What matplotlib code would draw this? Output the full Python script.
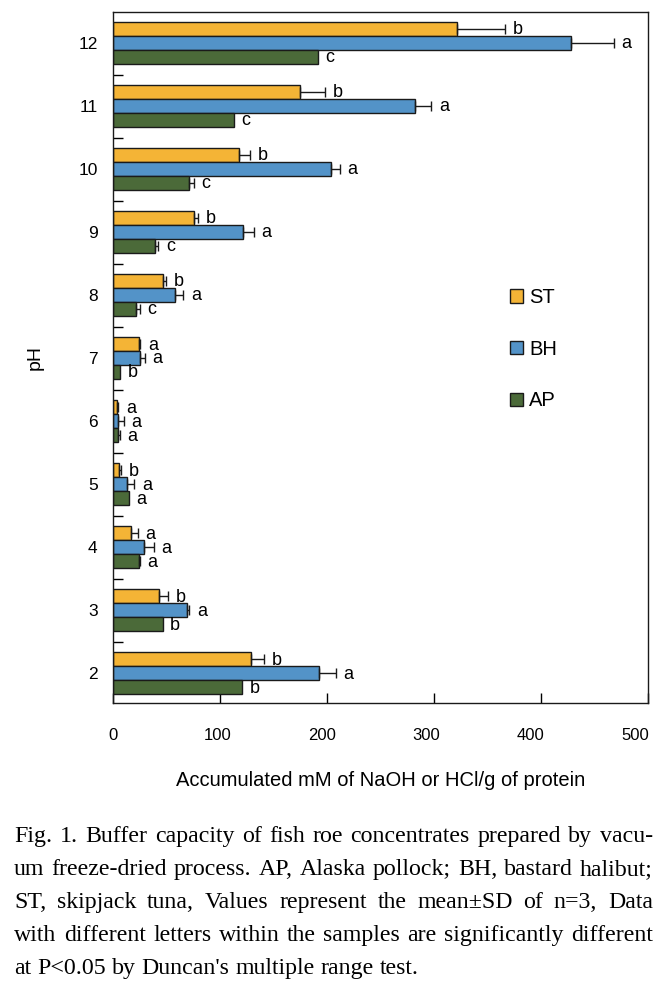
import numpy as np
import matplotlib.pyplot as plt
from matplotlib.transforms import ScaledTranslation

# Source data
ph = [2, 3, 4, 5, 6, 7, 8, 9, 10, 11, 12]

st = [128.7, 42.7, 17.1, 5.9, 4.0, 24.6, 47.0, 75.4, 118.0, 175.0, 321.5]
st_sd = [12.7, 9.0, 6.0, 2.0, 1.0, 1.0, 3.0, 4.0, 10.0, 23.0, 45.0]
st_let = ["b", "b", "a", "b", "a", "a", "b", "b", "b", "b", "b"]

bh = [192.2, 68.9, 29.3, 13.4, 5.0, 25.5, 58.2, 121.8, 204.0, 282.6, 428.0]
bh_sd = [16.0, 2.4, 9.0, 6.5, 5.3, 4.4, 7.5, 10.0, 8.0, 15.0, 40.0]
bh_let = ["a", "a", "a", "a", "a", "a", "a", "a", "a", "a", "a"]

ap = [120.3, 46.4, 24.0, 14.7, 5.0, 6.8, 21.8, 39.3, 71.5, 112.7, 191.3]
ap_sd = [0.0, 0.0, 1.0, 0.0, 1.5, 0.0, 3.4, 3.0, 4.0, 0.0, 0.0]
ap_let = ["b", "b", "a", "a", "a", "b", "c", "c", "c", "c", "c"]

xticks = [0, 100, 200, 300, 400, 500]

caption = [
    "Fig. 1. Buffer capacity of fish roe concentrates prepared by vacu-",
    "um freeze-dried process. AP, Alaska pollock; BH, bastard halibut;",
    "ST, skipjack tuna, Values represent the mean±SD of n=3, Data",
    "with different letters within the samples are significantly different",
    "at P<0.05 by Duncan's multiple range test.",
]

plt.rcParams["font.family"] = ["Liberation Sans", "DejaVu Sans"]

fig = plt.figure(figsize=(6.71, 9.91), dpi=100)
ax = fig.add_axes([0.1684, 0.2906, 0.7973, 0.6976])

y = np.array(ph, dtype=float)
h = 0.222
series = [
    ("ST", st, st_sd, st_let, "#F4B436", y + h),
    ("BH", bh, bh_sd, bh_let, "#5393C8", y),
    ("AP", ap, ap_sd, ap_let, "#4B6A39", y - h),
]

for name, vals, sds, lets, color, ypos in series:
    ax.barh(ypos, vals, height=h, color=color, edgecolor="#1a1a1a",
            linewidth=1.0, label=name, zorder=2)
    vals = np.array(vals)
    sds = np.array(sds)
    m = sds > 0
    ax.errorbar(vals[m], ypos[m], xerr=[np.zeros(m.sum()), sds[m]],
                fmt="none", ecolor="#1a1a1a", elinewidth=1.0,
                capsize=3.6, capthick=1.0, zorder=3)
    for v, s, yy, t in zip(vals, sds, ypos, lets):
        ax.annotate(t, (v + s, yy), xytext=(5.5, -0.5), textcoords="offset points",
                    ha="left", va="center", fontsize=13)

ax.set_xlim(0, 500)
ax.set_ylim(1.53, 12.5)
ax.set_xticks(xticks)
ax.set_xticklabels([str(v) for v in xticks])
ax.set_yticks(ph)
ax.set_yticks(np.arange(2.5, 12, 1.0), minor=True)
ax.set_yticklabels([str(p) for p in ph])

ax.tick_params(axis="x", direction="in", length=7, width=1.0, pad=18, labelsize=12)
ax.tick_params(axis="y", which="major", length=0, pad=11, labelsize=12.5)
ax.tick_params(axis="y", which="minor", direction="in", length=7, width=1.0)
for sp in ax.spines.values():
    sp.set_linewidth(1.0)
    sp.set_color("#1a1a1a")

# tick labels in the original sit on a slightly compressed scale
for lbl, v in zip(ax.get_xticklabels(), xticks):
    lbl.set_transform(lbl.get_transform() + ScaledTranslation(-0.00026 * v, 0, fig.dpi_scale_trans))

ax.set_xlabel("Accumulated mM of NaOH or HCl/g of protein", fontsize=14.5, labelpad=20)
ax.set_ylabel("pH", fontsize=14, labelpad=25)

ax.legend(loc="upper left", bbox_to_anchor=(0.742, 0.600), frameon=False,
          fontsize=14.5, handlelength=0.65, handleheight=0.65, handletextpad=0.3,
          labelspacing=1.62, borderpad=0, borderaxespad=0)

# justified caption; font size fitted so the 4th line sits at its natural width
renderer = fig.canvas.get_renderer()
x_left, x_right = 14, 653
total = x_right - x_left
probe = fig.text(0, 0, caption[3], fontsize=10, family="Liberation Serif")
fs = 10 * total / probe.get_window_extent(renderer).width * 0.985
probe.remove()

base0 = 842
for i, line in enumerate(caption):
    words = line.split(" ")
    yb = 1 - (base0 + i * 33) / 991
    objs = [fig.text(0, yb, w, fontsize=fs, family="Liberation Serif",
                     va="baseline", ha="left") for w in words]
    widths = [o.get_window_extent(renderer).width for o in objs]
    if i < len(caption) - 1:
        gap = (total - sum(widths)) / (len(words) - 1)
    else:
        sp = fig.text(0, 0, "a b", fontsize=fs, family="Liberation Serif")
        sp2 = fig.text(0, 0, "ab", fontsize=fs, family="Liberation Serif")
        gap = sp.get_window_extent(renderer).width - sp2.get_window_extent(renderer).width
        sp.remove()
        sp2.remove()
    x = x_left
    for o, wdt in zip(objs, widths):
        o.set_x(x / 671)
        x += wdt + gap

fig.savefig("out.png", dpi=100)
